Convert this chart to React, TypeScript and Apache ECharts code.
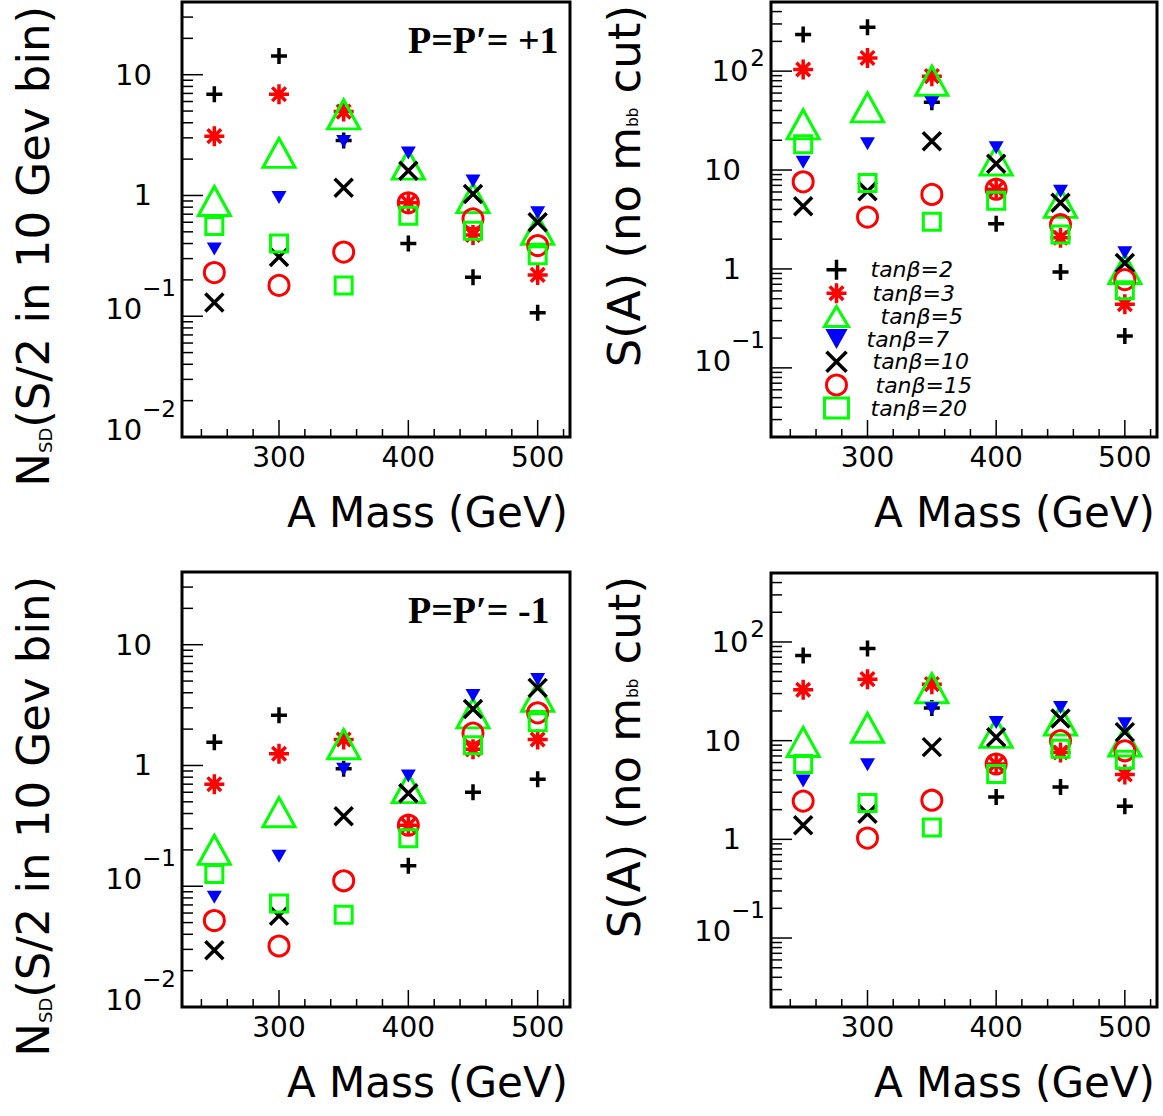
import React, { useEffect, useRef } from 'react';
import * as echarts from 'echarts';

// ---------- data ----------
const MASSES = [250, 300, 350, 400, 450, 500];
const TAN_BETA_NAMES = ['tanβ=2', 'tanβ=3', 'tanβ=5', 'tanβ=7', 'tanβ=10', 'tanβ=15', 'tanβ=20'];

// Top-left: N_SD, P=P'=+1
const NSD_PLUS_TB2 = [6.9, 14.3, 2.85, 0.40, 0.21, 0.107];
const NSD_PLUS_TB3 = [3.1, 6.9, 4.95, 0.87, 0.47, 0.22];
const NSD_PLUS_TB5 = [0.9, 2.25, 4.7, 1.8, 0.95, 0.52];
const NSD_PLUS_TB7 = [0.36, 0.96, 2.8, 2.25, 1.32, 0.72];
const NSD_PLUS_TB10 = [0.13, 0.31, 1.16, 1.6, 1.03, 0.6];
const NSD_PLUS_TB15 = [0.23, 0.18, 0.34, 0.87, 0.64, 0.385];
const NSD_PLUS_TB20 = [0.56, 0.4, 0.18, 0.68, 0.51, 0.32];

// Top-right: S(A), P=P'=+1
const SA_PLUS_TB2 = [235, 278, 48.6, 2.86, 0.93, 0.21];
const SA_PLUS_TB3 = [104, 136, 89, 6.4, 2.07, 0.44];
const SA_PLUS_TB5 = [29, 43, 80, 12.5, 4.66, 1.0];
const SA_PLUS_TB7 = [12.0, 18.4, 48, 16.8, 6.1, 1.46];
const SA_PLUS_TB10 = [4.3, 6.1, 19.6, 11.6, 4.66, 1.15];
const SA_PLUS_TB15 = [7.6, 3.35, 5.67, 6.4, 2.8, 0.78];
const SA_PLUS_TB20 = [18.2, 7.4, 3.0, 4.9, 2.23, 0.61];

// Bottom-left: N_SD, P=P'=-1
const NSD_MINUS_TB2 = [1.56, 2.61, 0.94, 0.148, 0.6, 0.77];
const NSD_MINUS_TB3 = [0.7, 1.25, 1.64, 0.32, 1.36, 1.64];
const NSD_MINUS_TB5 = [0.2, 0.41, 1.5, 0.65, 2.7, 3.7];
const NSD_MINUS_TB7 = [0.081, 0.177, 0.93, 0.82, 3.8, 5.14];
const NSD_MINUS_TB10 = [0.0295, 0.057, 0.38, 0.59, 2.94, 4.39];
const NSD_MINUS_TB15 = [0.052, 0.032, 0.111, 0.32, 1.85, 2.73];
const NSD_MINUS_TB20 = [0.126, 0.072, 0.058, 0.25, 1.47, 2.28];

// Bottom-right: S(A), P=P'=-1
const SA_MINUS_TB2 = [73, 86, 21.4, 2.69, 3.4, 2.16];
const SA_MINUS_TB3 = [32.8, 42, 37.4, 5.8, 7.6, 4.55];
const SA_MINUS_TB5 = [9.7, 13.5, 34, 12, 16, 9.8];
const SA_MINUS_TB7 = [3.9, 5.7, 21, 15.3, 21.7, 14.8];
const SA_MINUS_TB10 = [1.39, 1.82, 8.6, 10.8, 16.8, 12.2];
const SA_MINUS_TB15 = [2.44, 1.03, 2.49, 5.8, 10, 7.9];
const SA_MINUS_TB20 = [5.8, 2.33, 1.32, 4.6, 8.3, 6.4];

// ---------- axes ----------
const X_RANGE = [225, 525];
const X_MAJOR_TICKS = [300, 400, 500];
const X_MINOR_TICKS = [240, 260, 280, 320, 340, 360, 380, 420, 440, 460, 480, 520];
const NSD_Y_RANGE = [0.01, 40];
const SA_Y_RANGE = [0.02, 500];
const NSD_Y_TICKS = [0.01, 0.1, 1, 10];
const NSD_Y_TICK_LABELS = ['{b|10}{e|−2}', '{b|10}{e|−1}', '{p|1}', '{p|10}'];
const SA_Y_TICKS = [0.1, 1, 10, 100];
const SA_Y_TICK_LABELS = ['{b|10}{e|−1}', '{p|1}', '{p|10}', '{b2|10}{e2|2}'];
const MINOR_MULTIPLIERS = [2, 3, 4, 5, 6, 7, 8, 9];

const X_TITLE = 'A Mass (GeV)';
const NSD_TITLE = 'N{sub|SD}(S/2 in 10 Gev bin)';
const SA_TITLE = 'S(A) (no m{sub2|bb} cut)';
const PLUS_LABEL = 'P=P′= +1';
const MINUS_LABEL = 'P=P′= -1';

// ---------- styles ----------
const FONT = 'DejaVu Sans';
const CLEAR = 'rgba(0,0,0,0)';
const SYMBOL_PLUS = 'path://M0,5L10,5M5,0L5,10';
const SYMBOL_STAR = 'path://M0,5L10,5M5,0L5,10M1.6,1.6L8.4,8.4M1.6,8.4L8.4,1.6';
const SYMBOL_CROSS = 'path://M0,0L10,10M0,10L10,0';
const SYMBOL_DOWN_TRIANGLE = 'path://M0,0L10,0L5,9Z';

const MARKERS: any[] = [
  { symbol: SYMBOL_PLUS, size: 16, rotate: 0, fill: CLEAR, stroke: '#000000', width: 3.5 },
  { symbol: SYMBOL_STAR, size: 20, rotate: 0, fill: CLEAR, stroke: '#ff0000', width: 3.5 },
  { symbol: 'triangle', size: [32, 29], rotate: 0, fill: CLEAR, stroke: '#00ff00', width: 3 },
  { symbol: 'triangle', size: [15, 13], rotate: 180, fill: '#0000ff', stroke: '#0000ff', width: 0 },
  { symbol: SYMBOL_CROSS, size: 18, rotate: 0, fill: CLEAR, stroke: '#000000', width: 3.5 },
  { symbol: 'circle', size: 20, rotate: 0, fill: CLEAR, stroke: '#ff0000', width: 3 },
  { symbol: 'rect', size: 17, rotate: 0, fill: CLEAR, stroke: '#00ff00', width: 3 },
];
const LEGEND_ICONS = [SYMBOL_PLUS, SYMBOL_STAR, 'triangle', SYMBOL_DOWN_TRIANGLE, SYMBOL_CROSS, 'circle', 'rect'];
const LEGEND_PAD = [17, 19, 27, 13, 19, 22, 17];

const PANELS = [
  {
    values: [NSD_PLUS_TB2, NSD_PLUS_TB3, NSD_PLUS_TB5, NSD_PLUS_TB7, NSD_PLUS_TB10, NSD_PLUS_TB15, NSD_PLUS_TB20],
    yRange: NSD_Y_RANGE, yTicks: NSD_Y_TICKS, yLabels: NSD_Y_TICK_LABELS,
    grid: { left: 182, top: 2, width: 388, height: 435 },
  },
  {
    values: [SA_PLUS_TB2, SA_PLUS_TB3, SA_PLUS_TB5, SA_PLUS_TB7, SA_PLUS_TB10, SA_PLUS_TB15, SA_PLUS_TB20],
    yRange: SA_Y_RANGE, yTicks: SA_Y_TICKS, yLabels: SA_Y_TICK_LABELS,
    grid: { left: 771, top: 2, width: 386, height: 435 },
  },
  {
    values: [NSD_MINUS_TB2, NSD_MINUS_TB3, NSD_MINUS_TB5, NSD_MINUS_TB7, NSD_MINUS_TB10, NSD_MINUS_TB15, NSD_MINUS_TB20],
    yRange: NSD_Y_RANGE, yTicks: NSD_Y_TICKS, yLabels: NSD_Y_TICK_LABELS,
    grid: { left: 182, top: 572, width: 388, height: 435 },
  },
  {
    values: [SA_MINUS_TB2, SA_MINUS_TB3, SA_MINUS_TB5, SA_MINUS_TB7, SA_MINUS_TB10, SA_MINUS_TB15, SA_MINUS_TB20],
    yRange: SA_Y_RANGE, yTicks: SA_Y_TICKS, yLabels: SA_Y_TICK_LABELS,
    grid: { left: 771, top: 573, width: 386, height: 434 },
  },
];

function minorLogTicks(range: number[]): number[] {
  const out: number[] = [];
  const lo = Math.floor(Math.log10(range[0]));
  const hi = Math.ceil(Math.log10(range[1]));
  for (let d = lo; d <= hi; d++) {
    for (const m of MINOR_MULTIPLIERS) {
      const v = parseFloat((m * Math.pow(10, d)).toPrecision(6));
      if (v > range[0] * 1.0001 && v < range[1] * 0.9999) out.push(v);
    }
  }
  return out;
}

function tickSeries(gi: number, data: number[][], orient: 'x' | 'y', len: number) {
  return {
    type: 'custom',
    xAxisIndex: gi,
    yAxisIndex: gi,
    silent: true,
    z: 1,
    data,
    renderItem: (_p: any, api: any) => {
      const pt = api.coord([api.value(0), api.value(1)]);
      const shape =
        orient === 'y'
          ? { x1: pt[0], y1: pt[1], x2: pt[0] + len, y2: pt[1] }
          : { x1: pt[0], y1: pt[1], x2: pt[0], y2: pt[1] - len };
      return { type: 'line', shape, style: { stroke: '#000', lineWidth: 1.5 } };
    },
  };
}

function buildOption() {
  const grid: any[] = [];
  const xAxis: any[] = [];
  const yAxis: any[] = [];
  const series: any[] = [];

  PANELS.forEach((panel, gi) => {
    grid.push({
      ...panel.grid,
      show: true,
      borderColor: '#000',
      borderWidth: 3,
      backgroundColor: 'transparent',
      containLabel: false,
    });
    xAxis.push({
      type: 'value',
      gridIndex: gi,
      position: 'bottom',
      min: X_RANGE[0],
      max: X_RANGE[1],
      axisLine: { show: false },
      axisTick: { show: false },
      splitLine: { show: false },
      axisLabel: {
        customValues: X_MAJOR_TICKS,
        fontFamily: FONT,
        fontSize: 28,
        color: '#000',
        margin: 6,
      },
    });
    const ticks = panel.yTicks;
    const labels = panel.yLabels;
    yAxis.push({
      type: 'log',
      logBase: 10,
      gridIndex: gi,
      position: 'left',
      min: panel.yRange[0],
      max: panel.yRange[1],
      axisLine: { show: false },
      axisTick: { show: false },
      splitLine: { show: false },
      minorTick: { show: false },
      axisLabel: {
        margin: 6,
        color: '#000',
        fontFamily: FONT,
        formatter: (v: number) => {
          const idx = ticks.findIndex((t) => Math.abs(Math.log10(v) - Math.log10(t)) < 1e-6);
          return idx >= 0 ? labels[idx] : '';
        },
        rich: {
          p: { fontFamily: FONT, fontSize: 29, color: '#000', padding: [0, 24, 0, 0] },
          b: { fontFamily: FONT, fontSize: 29, color: '#000', padding: [0, 0, 14, 0] },
          e: { fontFamily: FONT, fontSize: 23, color: '#000', padding: [0, 0, 56, 0] },
          b2: { fontFamily: FONT, fontSize: 29, color: '#000', padding: [0, 2, 0, 0] },
          e2: { fontFamily: FONT, fontSize: 23, color: '#000', padding: [0, 0, 26, 0] },
        },
      },
    });

    // tick marks
    series.push(tickSeries(gi, ticks.map((v) => [X_RANGE[0], v]), 'y', 21));
    series.push(tickSeries(gi, minorLogTicks(panel.yRange).map((v) => [X_RANGE[0], v]), 'y', 11));
    series.push(tickSeries(gi, X_MAJOR_TICKS.map((v) => [v, panel.yRange[0]]), 'x', 17));
    series.push(tickSeries(gi, X_MINOR_TICKS.map((v) => [v, panel.yRange[0]]), 'x', 8));

    panel.values.forEach((vals, si) => {
      const mk = MARKERS[si];
      series.push({
        type: 'scatter',
        name: TAN_BETA_NAMES[si],
        xAxisIndex: gi,
        yAxisIndex: gi,
        symbol: mk.symbol,
        symbolSize: mk.size,
        symbolRotate: mk.rotate,
        z: 3,
        itemStyle: {
          color: mk.fill,
          borderColor: mk.stroke,
          borderWidth: mk.width,
          opacity: 1,
        },
        data: MASSES.map((m, i) => [m, vals[i]]),
      });
    });
  });

  const richLegend: any = {};
  LEGEND_PAD.forEach((pad, i) => {
    richLegend['t' + i] = {
      fontFamily: FONT,
      fontSize: 22,
      fontStyle: 'italic',
      color: '#000',
      lineHeight: 20,
      padding: [0, 0, 0, pad],
    };
  });

  const graphic: any[] = [];
  const xTitlePos = [
    [568, 512],
    [1155, 512],
    [568, 1082],
    [1155, 1082],
  ];
  xTitlePos.forEach(([x, y]) => {
    graphic.push({
      type: 'text',
      x,
      y,
      style: {
        text: X_TITLE,
        fill: '#000',
        fontFamily: FONT,
        fontSize: 42,
        align: 'right',
        verticalAlign: 'middle',
        textAlign: 'right',
        textVerticalAlign: 'middle',
      },
    });
  });
  const yTitles = [
    { text: NSD_TITLE, x: 33, y: 6 },
    { text: SA_TITLE, x: 624, y: 5 },
    { text: NSD_TITLE, x: 33, y: 576 },
    { text: SA_TITLE, x: 624, y: 576 },
  ];
  yTitles.forEach((t) => {
    graphic.push({
      type: 'text',
      x: t.x,
      y: t.y,
      rotation: Math.PI / 2,
      style: {
        text: t.text,
        fill: '#000',
        fontFamily: FONT,
        fontSize: 45,
        align: 'right',
        verticalAlign: 'middle',
        textAlign: 'right',
        textVerticalAlign: 'middle',
        rich: {
          sub: { fontFamily: FONT, fontSize: 18, fill: '#000', padding: [24, 0, 0, 0] },
          sub2: { fontFamily: FONT, fontSize: 15, fill: '#000', padding: [18, 0, 0, 0] },
        },
      },
    });
  });
  [
    { text: PLUS_LABEL, y: 40 },
    { text: MINUS_LABEL, y: 610 },
  ].forEach((a) => {
    graphic.push({
      type: 'text',
      x: 408,
      y: a.y,
      style: {
        text: a.text,
        fill: '#000',
        fontFamily: 'Liberation Serif',
        fontWeight: 'bold',
        fontSize: 38,
        align: 'left',
        verticalAlign: 'middle',
        textAlign: 'left',
        textVerticalAlign: 'middle',
      },
    });
  });

  return {
    animation: false,
    backgroundColor: '#ffffff',
    textStyle: { fontFamily: FONT },
    grid,
    xAxis,
    yAxis,
    series,
    graphic,
    legend: {
      orient: 'vertical',
      left: 823,
      top: 258,
      itemWidth: 24,
      itemHeight: 20,
      itemGap: 0,
      selectedMode: false,
      padding: 0,
      data: TAN_BETA_NAMES.map((name, i) => ({
        name,
        icon: LEGEND_ICONS[i],
        itemStyle: {
          color: MARKERS[i].fill,
          borderColor: MARKERS[i].stroke,
          borderWidth: MARKERS[i].width,
        },
      })),
      formatter: (name: string) => `{t${TAN_BETA_NAMES.indexOf(name)}|${name}}`,
      textStyle: {
        fontFamily: FONT,
        fontSize: 22,
        fontStyle: 'italic',
        color: '#000',
        lineHeight: 20,
        rich: richLegend,
      },
    },
  };
}

export default function App() {
  const ref = useRef<HTMLDivElement>(null);
  useEffect(() => {
    if (!ref.current) return;
    const chart = echarts.init(ref.current, undefined, { renderer: 'svg' });
    chart.setOption(buildOption() as any);
    return () => chart.dispose();
  }, []);
  return (
    <div
      ref={ref}
      style={{ position: 'absolute', left: 0, top: 0, width: 1163, height: 1116, background: '#fff' }}
    />
  );
}
